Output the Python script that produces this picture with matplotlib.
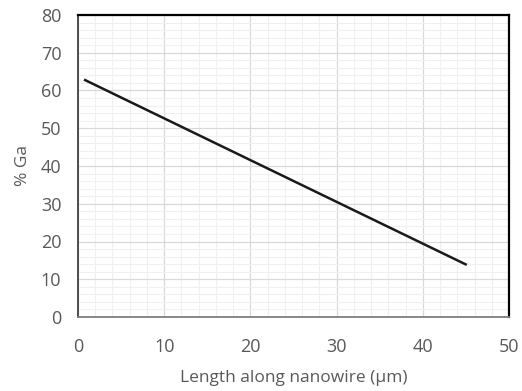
import numpy as np
import matplotlib.pyplot as plt
from matplotlib.ticker import MultipleLocator

# data
length_um = [0.7, 45.1]
ga_percent = [62.9, 13.8]

plt.rcParams['font.family'] = ['Open Sans', 'DejaVu Sans']

fig = plt.figure(figsize=(5.22, 3.91), dpi=100)
ax = fig.add_axes([78 / 522, 1 - 317 / 391, 431 / 522, 302 / 391])

ax.plot(length_um, ga_percent, color='#1a1a1a', lw=1.8, solid_capstyle='butt')

ax.set_xlim(0, 50)
ax.set_ylim(0, 80)
ax.xaxis.set_major_locator(MultipleLocator(10))
ax.yaxis.set_major_locator(MultipleLocator(10))
ax.xaxis.set_minor_locator(MultipleLocator(2))
ax.yaxis.set_minor_locator(MultipleLocator(2))
ax.grid(which='major', color='#d9d9d9', lw=0.9)
ax.grid(which='minor', color='#f0f0f0', lw=0.8)
ax.set_axisbelow(True)
ax.tick_params(which='both', length=0, labelsize=13, labelcolor='#595959')
ax.tick_params(axis='x', pad=15)
ax.tick_params(axis='y', pad=12)

for side in ['top', 'right']:
    ax.spines[side].set_color('#000000')
    ax.spines[side].set_linewidth(1.6)
ax.spines['left'].set_color('#404040')
ax.spines['left'].set_linewidth(1.3)
ax.spines['bottom'].set_color('#7f7f7f')
ax.spines['bottom'].set_linewidth(1.3)

ax.set_xlabel('Length along nanowire (µm)', fontsize=12.5, color='#595959', labelpad=10)
ax.set_ylabel('% Ga', fontsize=12.5, color='#595959', labelpad=7)

fig.savefig('out.png', dpi=100)
